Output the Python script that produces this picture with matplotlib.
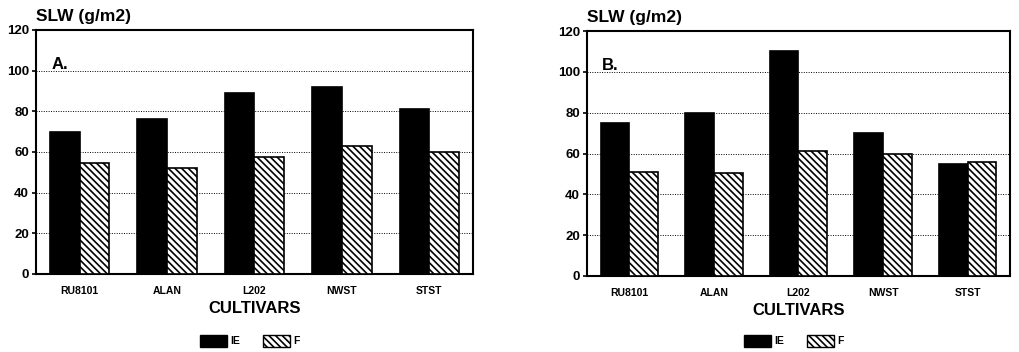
import matplotlib
matplotlib.use("Agg")
import matplotlib.pyplot as plt
from matplotlib.patches import Patch
import numpy as np

plt.rcParams['font.family'] = ['Liberation Sans', 'DejaVu Sans']
plt.rcParams['hatch.linewidth'] = 1.2

cultivars = ["RU8101", "ALAN", "L202", "NWST", "STST"]
ie_a = [70, 76, 89, 92, 81]
f_a = [54.5, 52, 57.5, 63, 60]
ie_b = [75, 80, 110, 70, 55]
f_b = [51, 50.5, 61, 60, 56]
panel_labels = ["A.", "B."]
yticks = [0, 20, 40, 60, 80, 100, 120]

fig = plt.figure(figsize=(10.2, 3.52), dpi=100)
W, H = 1020, 352
boxes = [(36, 30, 473, 274), (587, 31, 1010, 276)]
data = [(ie_a, f_a), (ie_b, f_b)]
HATCH = '\\\\\\\\\\'

for (x0, y0, x1, y1), (ie, f), lab in zip(boxes, data, panel_labels):
    ax = fig.add_axes([x0 / W, 1 - y1 / H, (x1 - x0) / W, (y1 - y0) / H])
    x = np.arange(len(cultivars))
    w = 0.34
    ax.bar(x - w / 2, ie, width=w, color='black', edgecolor='black', linewidth=1.2, zorder=3)
    ax.bar(x + w / 2, f, width=w, color='white', edgecolor='black', hatch=HATCH, linewidth=1.2, zorder=3)
    ax.set_xlim(-0.5, 4.5)
    ax.set_ylim(0, 120)
    ax.set_yticks(yticks)
    ax.set_yticklabels([str(v) for v in yticks], fontsize=9.5, fontweight='bold')
    ax.set_xticks(x)
    ax.set_xticklabels(cultivars, fontsize=7.5, fontweight='bold')
    ax.tick_params(axis='x', length=0, pad=9)
    ax.tick_params(axis='y', length=3, width=1.2, pad=2)
    ax.yaxis.grid(True, linestyle=(0, (1, 1.5)), color='black', linewidth=0.7, zorder=0)
    ax.set_axisbelow(True)
    for s in ax.spines.values():
        s.set_linewidth(1.5)
    ax.set_xlabel("CULTIVARS", fontsize=12, fontweight='bold', labelpad=3)
    ax.text(0.035, 0.86, lab, transform=ax.transAxes, fontsize=12, fontweight='bold', va='center')
    ax.text(0, 1.025, "SLW (g/m2)", transform=ax.transAxes, fontsize=12.5, fontweight='bold',
            ha='left', va='bottom')
    handles = [Patch(facecolor='black', edgecolor='black', label='IE'),
               Patch(facecolor='white', edgecolor='black', hatch=HATCH, label='F')]
    leg = fig.legend(handles=handles, loc='center',
                     bbox_to_anchor=((x0 + x1) / 2 / W - 0.005, 11 / H),
                     ncol=2, frameon=False, fontsize=7.5, handlelength=2.6, handleheight=1.4,
                     columnspacing=2.2, handletextpad=0.3, borderpad=0, borderaxespad=0)
    for t in leg.get_texts():
        t.set_fontweight('bold')

fig.savefig("out.png", dpi=100)
